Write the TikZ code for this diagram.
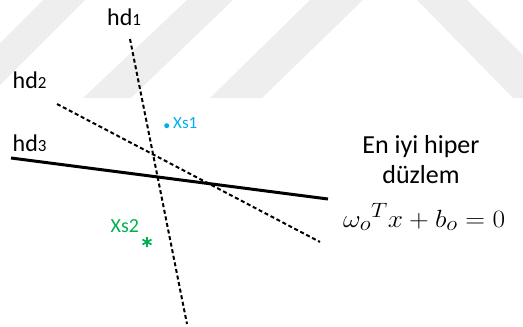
\documentclass[tikz,border=0pt]{standalone}
\usepackage{fontspec}
\usetikzlibrary{calc}
\setmainfont{Carlito}
\definecolor{wm}{RGB}{238,238,238}
\definecolor{ptblue}{RGB}{0,176,240}
\definecolor{ptgreen}{RGB}{0,176,80}
\tikzset{
  lbl/.style={inner sep=0pt, anchor=base west, font=\fontsize{24}{24}\selectfont},
  hypdash/.style={line width=2pt, dash pattern=on 4pt off 2.7pt},
  hypsolid/.style={line width=3pt},
  txt/.style={inner sep=0pt, anchor=base, font=\fontsize{26}{30}\selectfont},
  wmband/.style={fill=wm, draw=none}
}
\newcommand{\subsz}[1]{{\fontsize{17}{17}\selectfont #1}}
\begin{document}
\begin{tikzpicture}[x=1pt,y=-1pt]
\useasboundingbox (0,0) rectangle (523,327);
% watermark bands
\fill[wmband] (43,0) -- (85,0) -- (0,85) -- (0,43) -- cycle;
\fill[wmband] (83,98) -- (131,98) -- (233,0) -- (187,0) -- cycle;
\fill[wmband] (210,98) -- (262,98) -- (363,0) -- (310,0) -- cycle;
\fill[wmband] (417,0) -- (467,0) -- (523,55) -- (523,98) -- (513,98) -- cycle;
% end points
\coordinate (a1) at (130,39);
\coordinate (b1) at (187,324);
\coordinate (a2) at (57,104);
\coordinate (b2) at (320,242);
\coordinate (a3) at (11,158);
\coordinate (b3) at (328,199);
\draw[hypdash] (a1) -- (b1);
\draw[hypdash] (a2) -- (b2);
\draw[hypsolid] (a3) -- (b3);
% labels
\node[lbl] (hd1) at (107,25) {hd\subsz{1}};
\node[lbl] (hd2) at (12.5,88) {hd\subsz{2}};
\node[lbl] (hd3) at (12.5,151.5) {hd\subsz{3}};
% points
\node[circle, fill=ptblue, inner sep=0pt, minimum size=5pt] (p1) at (166.7,125.7) {};
\node[inner sep=0pt, anchor=base west, text=ptblue, font=\fontsize{17}{17}\selectfont] (xs1) at (173,128.5) {Xs1};
\node[inner sep=0pt, anchor=base west, text=ptgreen, font=\fontsize{20}{20}\selectfont] (xs2) at (110.5,232.5) {Xs2};
\coordinate (p2) at (147,242);
\draw[ptgreen, line width=1.7pt] ($(p2)+(0,-5)$) -- ($(p2)+(0,5)$)
  ($(p2)+(-4.5,-2.5)$) -- ($(p2)+(4.5,2.5)$)
  ($(p2)+(-4.5,2.5)$) -- ($(p2)+(4.5,-2.5)$);
% right text
\node[txt] (t1) at (421,153) {En iyi hiper};
\node[txt] (t2) at (421,183) {düzlem};
\node[inner sep=0pt, anchor=base west, font=\fontsize{28}{28}\selectfont] (eq) at (343,227) {\scalebox{1.1}[1]{$\omega_o{}^T x + b_o = 0$}};
\end{tikzpicture}
\end{document}
